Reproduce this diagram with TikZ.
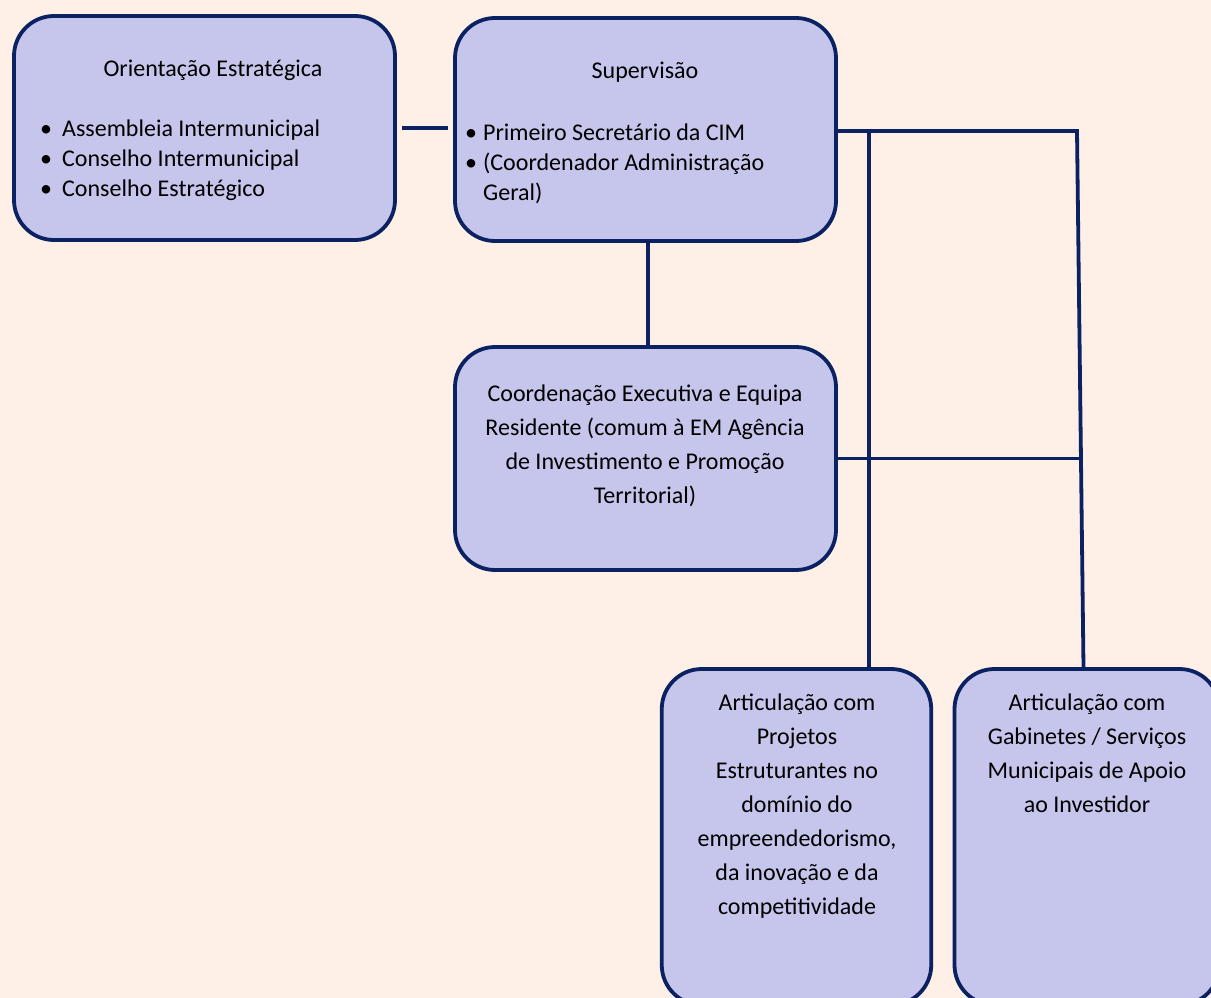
\documentclass[tikz,border=0pt]{standalone}
\usepackage{fontspec}
\setmainfont{Carlito}
\usetikzlibrary{calc}
\definecolor{fundo}{HTML}{FEF0E6}
\definecolor{lilas}{HTML}{C6C5EB}
\definecolor{azul}{HTML}{0B2262}
\newcommand{\marca}{\textbullet}
\tikzset{
    caixa/.style={draw=azul, fill=lilas, line width=3.8pt, rounded corners=40pt, inner sep=0pt},
    texto/.style={inner sep=0pt, anchor=base, font=\fontsize{24}{34}\selectfont},
    lista/.style={inner sep=0pt, anchor=base west, font=\fontsize{24}{30}\selectfont},
    ligacao/.style={draw=azul, line width=3.8pt}
}
\begin{document}
\begin{tikzpicture}[x=1pt, y=-1pt]
            \useasboundingbox (0,0) rectangle (1211,998);
            \clip (0,0) rectangle (1211,998);
            \fill[fundo] (0,0) rectangle (1211,998);
            \node[caixa, minimum width=381pt, minimum height=224pt] (orient) at (204.5,128) {};
            \node[caixa, minimum width=381pt, minimum height=223pt] (superv) at (645.5,129.5) {};
            \node[caixa, minimum width=381pt, minimum height=223pt] (coord) at (645.5,458.5) {};
            \node[caixa, minimum width=269.5pt, minimum height=336pt] (projet) at (796.5,837) {};
            \node[caixa, minimum width=265pt, minimum height=336pt] (gabin) at (1087,837) {};
            \node[texto] (orientT) at (213,77) {Orientação Estratégica};
            \node[lista] (orientL) at (40,136) {\begin{tabular}[t]{@{}p{22pt}@{}l@{}}\marca & Assembleia Intermunicipal\\ \marca & Conselho Intermunicipal\\ \marca & Conselho Estratégico\end{tabular}};
            \node[texto] (supervT) at (645,78) {Supervisão};
            \node[lista] (supervL) at (465,140) {\begin{tabular}[t]{@{}p{18pt}@{}l@{}}\marca & Primeiro Secretário da CIM\\ \marca & (Coordenador Administração\\ & Geral)\end{tabular}};
            \node[texto] (coordT) at (645,401) {\begin{tabular}[t]{@{}c@{}}Coordenação Executiva e Equipa\\ Residente (comum à EM Agência\\ de Investimento e Promoção\\ Territorial)\end{tabular}};
            \node[texto] (projetT) at (797,710) {\begin{tabular}[t]{@{}c@{}}Articulação com\\ Projetos\\ Estruturantes no\\ domínio do\\ empreendedorismo,\\ da inovação e da\\ competitividade\end{tabular}};
            \node[texto] (gabinT) at (1087,710) {\begin{tabular}[t]{@{}c@{}}Articulação com\\ Gabinetes / Serviços\\ Municipais de Apoio\\ ao Investidor\end{tabular}};
            \coordinate (canto) at (1077,131);
            \coordinate (ramo) at (869,131);
            \coordinate (topoB) at ([xshift=-3.5pt]gabin.north);
            \coordinate (meio) at ($(canto)!0.611!(topoB)$);
            \draw[ligacao] ([xshift=5pt]orient.east) -- ([xshift=-5pt]orient.east -| superv.west);
            \draw[ligacao] ([xshift=2.5pt]superv.south) -- ([xshift=2.5pt]superv.south |- coord.north);
            \draw[ligacao] (superv.east |- canto) -- (canto) -- (topoB);
            \draw[ligacao] (ramo) -- (ramo |- projet.north);
            \draw[ligacao] (coord.east) -- (coord.east -| meio);
        \end{tikzpicture}
\end{document}
